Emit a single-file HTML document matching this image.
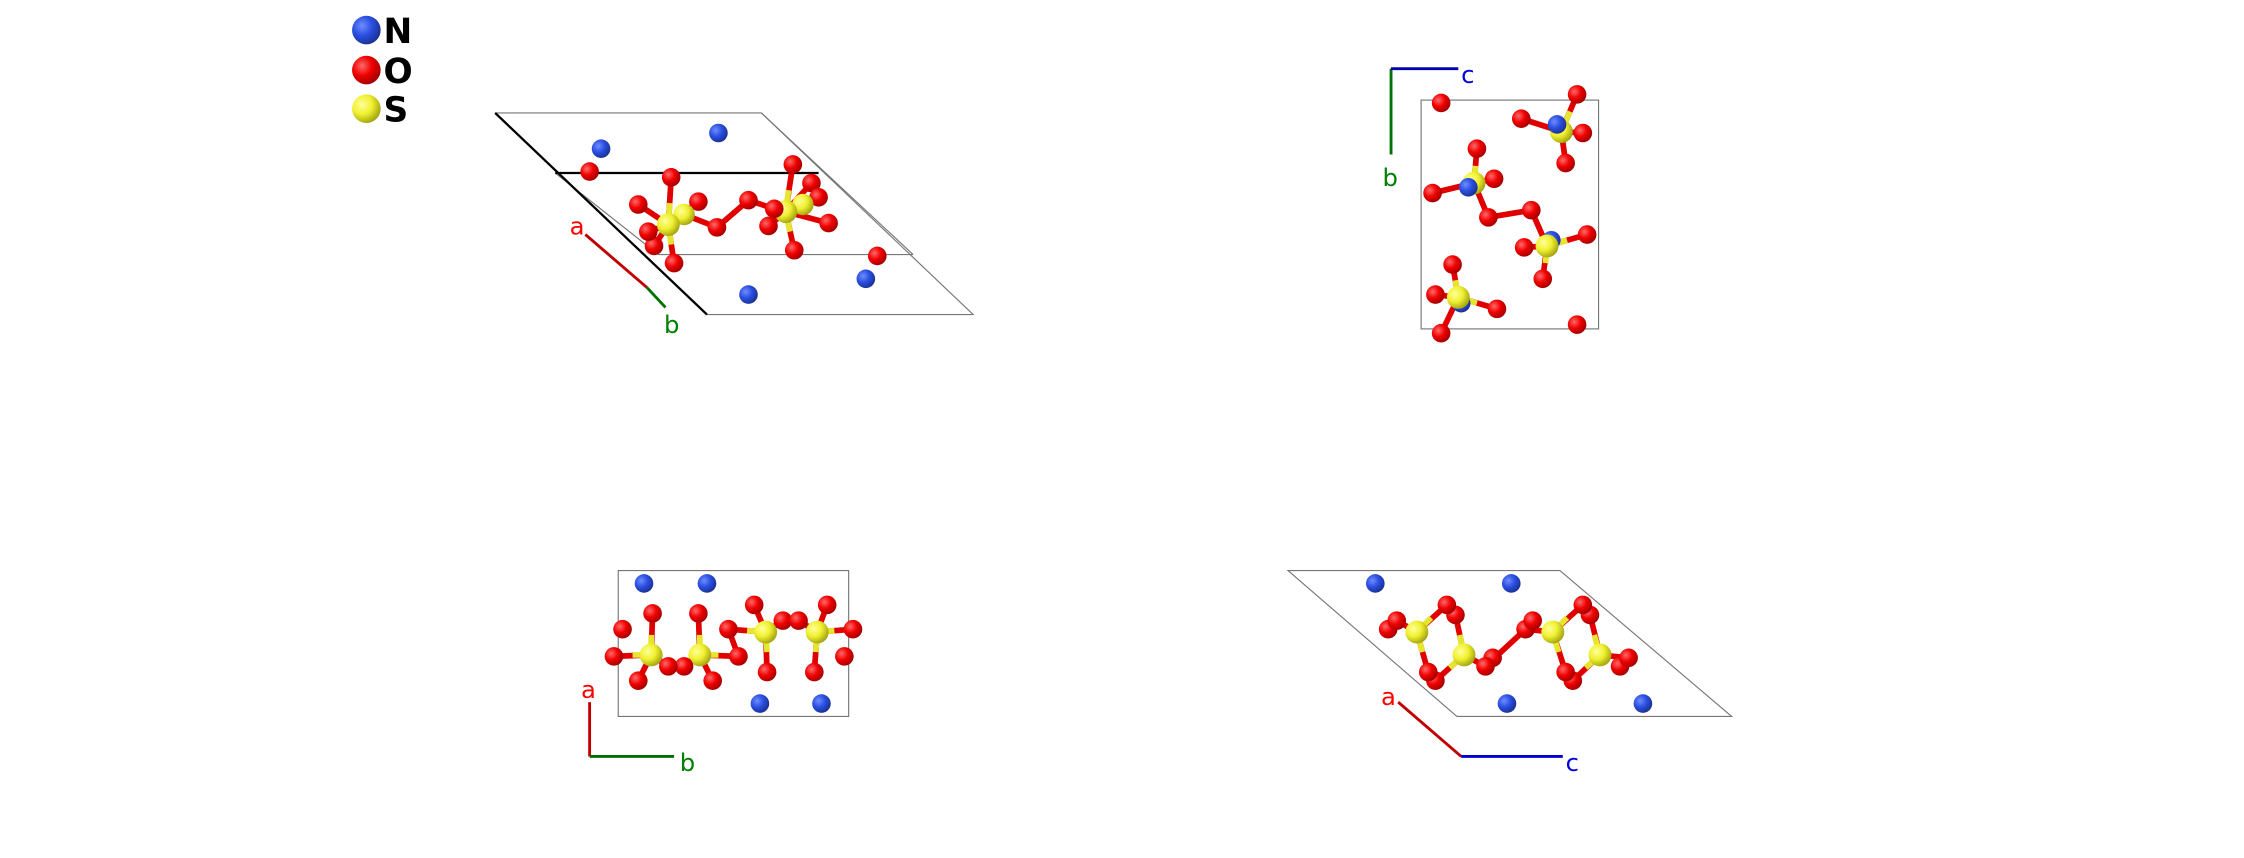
<!DOCTYPE html>
<html><head><meta charset="utf-8"><style>
html,body{margin:0;padding:0;background:#fff;}
svg{display:block;}
</style></head><body>
<svg width="2244" height="858" viewBox="0 0 1568 600" preserveAspectRatio="none" xmlns="http://www.w3.org/2000/svg">
<defs>
<radialGradient id="gN" cx="0.35" cy="0.35" r="0.7"><stop offset="0" stop-color="#6f8cff"/><stop offset="0.5" stop-color="#2a4fe0"/><stop offset="1" stop-color="#1a2f90"/></radialGradient>
<radialGradient id="gO" cx="0.35" cy="0.35" r="0.7"><stop offset="0" stop-color="#ff6a6a"/><stop offset="0.5" stop-color="#f00000"/><stop offset="1" stop-color="#a00000"/></radialGradient>
<radialGradient id="gS" cx="0.35" cy="0.35" r="0.7"><stop offset="0" stop-color="#ffff9a"/><stop offset="0.5" stop-color="#f0f030"/><stop offset="1" stop-color="#a0a010"/></radialGradient>
</defs>
<style>
.N{fill:url(#gN)}.O{fill:url(#gO)}.S{fill:url(#gS)}
.br{stroke:#e00000;stroke-width:4;stroke-linecap:round}
.by{stroke:#e6e630;stroke-width:4}
.cell{stroke:#777;stroke-width:0.8;fill:none}
.lbl{font-family:"DejaVu Sans","Liberation Sans",sans-serif;font-size:17px}
</style>
<!-- Legend -->
<circle class="N" cx="256" cy="21" r="10"/><circle class="O" cx="256" cy="49" r="10"/><circle class="S" cx="256" cy="76" r="10"/>
<g font-family="DejaVu Sans, Liberation Sans, sans-serif" font-weight="bold" font-size="24"><text x="268" y="30">N</text><text x="268" y="58">O</text><text x="268" y="85">S</text></g>

<!-- Panel 1 -->
<g>
<polyline class="cell" points="346,79 532,79 680,220 494,220"/>
<line class="cell" x1="532" y1="79" x2="638" y2="178"/>
<line class="cell" x1="460" y1="178" x2="638" y2="178"/>
<line class="cell" x1="388" y1="121" x2="460" y2="178"/>
<line x1="346" y1="79" x2="494" y2="220" stroke="#000" stroke-width="1.6"/>
<line x1="388" y1="121" x2="572" y2="121" stroke="#000" stroke-width="1.6"/>
<line x1="409" y1="164" x2="452" y2="201" stroke="#c00000" stroke-width="2"/>
<line x1="452" y1="201" x2="465" y2="215" stroke="#007000" stroke-width="2"/>
<text class="lbl" x="398" y="164" fill="#f00">a</text>
<text class="lbl" x="464" y="233" fill="#008000">b</text>
<g class="br">
<line x1="467" y1="157" x2="469" y2="124"/><line x1="467" y1="157" x2="446" y2="143"/><line x1="467" y1="157" x2="488" y2="141"/><line x1="467" y1="157" x2="453" y2="162"/><line x1="467" y1="157" x2="471" y2="184"/><line x1="467" y1="157" x2="457" y2="172"/>
<line x1="549" y1="148" x2="554" y2="115"/><line x1="549" y1="148" x2="537" y2="158"/><line x1="549" y1="148" x2="555" y2="175"/><line x1="549" y1="148" x2="579" y2="156"/><line x1="549" y1="148" x2="567" y2="128"/>
<line x1="478" y1="150" x2="501" y2="159"/><line x1="501" y1="159" x2="523" y2="140"/><line x1="523" y1="140" x2="541" y2="146"/><line x1="561" y1="143" x2="572" y2="138"/>
</g>
<g class="by"><line x1="467" y1="157" x2="468" y2="142"/><line x1="549" y1="148" x2="551" y2="133"/><line x1="549" y1="148" x2="552" y2="162"/><line x1="467" y1="157" x2="469" y2="171"/></g>
<g>
<circle class="N" cx="420" cy="104" r="6.5"/><circle class="N" cx="502" cy="93" r="6.5"/><circle class="N" cx="523" cy="206" r="6.5"/><circle class="N" cx="605" cy="195" r="6.5"/>
<circle class="O" cx="412" cy="120" r="6.5"/><circle class="O" cx="469" cy="124" r="6.5"/><circle class="O" cx="446" cy="143" r="6.5"/><circle class="O" cx="488" cy="141" r="6.5"/>
<circle class="O" cx="457" cy="172" r="6.5"/><circle class="O" cx="453" cy="162" r="6.5"/><circle class="O" cx="471" cy="184" r="6.5"/>
<circle class="O" cx="554" cy="115" r="6.5"/><circle class="O" cx="567" cy="128" r="6.5"/><circle class="O" cx="572" cy="138" r="6.5"/><circle class="O" cx="579" cy="156" r="6.5"/>
<circle class="O" cx="555" cy="175" r="6.5"/><circle class="O" cx="613" cy="179" r="6.5"/>
<circle class="S" cx="478" cy="150" r="7.5"/><circle class="S" cx="467" cy="157" r="8"/>
<circle class="S" cx="561" cy="143" r="7.5"/><circle class="S" cx="549" cy="148" r="8"/>
<circle class="O" cx="501" cy="159" r="6.5"/><circle class="O" cx="523" cy="140" r="6.5"/><circle class="O" cx="541" cy="146" r="6.5"/><circle class="O" cx="537" cy="158" r="6.5"/>
</g>
</g>

<!-- Panel 2 -->
<g>
<rect class="cell" x="993" y="70" width="124" height="160"/>
<line x1="972" y1="48" x2="972" y2="108" stroke="#007000" stroke-width="2"/>
<line x1="972" y1="48" x2="1019" y2="48" stroke="#0000b0" stroke-width="2"/>
<text class="lbl" x="1021" y="58" fill="#0000e0">c</text>
<text class="lbl" x="966" y="130" fill="#008000">b</text>
<g class="br">
<line x1="1091" y1="92" x2="1102" y2="66"/><line x1="1091" y1="92" x2="1063" y2="83"/><line x1="1091" y1="92" x2="1106" y2="93"/><line x1="1091" y1="92" x2="1094" y2="114"/>
<line x1="1030" y1="128" x2="1032" y2="104"/><line x1="1030" y1="128" x2="1044" y2="125"/><line x1="1030" y1="128" x2="1001" y2="135"/><line x1="1030" y1="128" x2="1040" y2="152"/>
<line x1="1040" y1="152" x2="1070" y2="147"/>
<line x1="1081" y1="172" x2="1070" y2="147"/><line x1="1081" y1="172" x2="1109" y2="164"/><line x1="1081" y1="172" x2="1065" y2="173"/><line x1="1081" y1="172" x2="1078" y2="195"/>
<line x1="1019" y1="208" x2="1015" y2="185"/><line x1="1019" y1="208" x2="1003" y2="206"/><line x1="1019" y1="208" x2="1046" y2="216"/><line x1="1019" y1="208" x2="1007" y2="233"/>
</g>
<g class="by"><line x1="1091" y1="92" x2="1097" y2="78"/><line x1="1030" y1="128" x2="1031" y2="116"/><line x1="1081" y1="172" x2="1095" y2="168"/><line x1="1081" y1="172" x2="1080" y2="184"/><line x1="1019" y1="208" x2="1032" y2="212"/><line x1="1019" y1="208" x2="1017" y2="196"/></g>
<g>
<circle class="O" cx="1007" cy="72" r="6.5"/><circle class="O" cx="1102" cy="66" r="6.5"/><circle class="O" cx="1063" cy="83" r="6.5"/><circle class="O" cx="1106" cy="93" r="6.5"/><circle class="O" cx="1094" cy="114" r="6.5"/>
<circle class="O" cx="1032" cy="104" r="6.5"/><circle class="O" cx="1044" cy="125" r="6.5"/><circle class="O" cx="1001" cy="135" r="6.5"/><circle class="O" cx="1040" cy="152" r="6.5"/><circle class="O" cx="1070" cy="147" r="6.5"/>
<circle class="O" cx="1109" cy="164" r="6.5"/><circle class="O" cx="1065" cy="173" r="6.5"/><circle class="O" cx="1078" cy="195" r="6.5"/>
<circle class="O" cx="1015" cy="185" r="6.5"/><circle class="O" cx="1003" cy="206" r="6.5"/><circle class="O" cx="1046" cy="216" r="6.5"/><circle class="O" cx="1007" cy="233" r="6.5"/><circle class="O" cx="1102" cy="227" r="6.5"/>
<circle class="S" cx="1091" cy="92" r="8"/><circle class="N" cx="1088" cy="87" r="6.5"/>
<circle class="S" cx="1030" cy="128" r="8"/><circle class="N" cx="1026" cy="131" r="6.5"/>
<circle class="N" cx="1084" cy="168" r="6.5"/><circle class="S" cx="1081" cy="172" r="8"/>
<circle class="N" cx="1021" cy="212" r="6.5"/><circle class="S" cx="1019" cy="208" r="8"/>
</g>
</g>

<!-- Panel 3 -->
<g>
<rect class="cell" x="432" y="399" width="161" height="102"/>
<line x1="412" y1="491" x2="412" y2="529" stroke="#c00000" stroke-width="2"/>
<line x1="412" y1="529" x2="471" y2="529" stroke="#007000" stroke-width="2"/>
<text class="lbl" x="406" y="488" fill="#f00">a</text>
<text class="lbl" x="475" y="539" fill="#008000">b</text>
<g class="br">
<line x1="455" y1="458" x2="456" y2="429"/><line x1="455" y1="458" x2="429" y2="459"/><line x1="455" y1="458" x2="446" y2="476"/><line x1="455" y1="458" x2="467" y2="466"/>
<line x1="489" y1="458" x2="488" y2="429"/><line x1="489" y1="458" x2="498" y2="476"/><line x1="489" y1="458" x2="478" y2="466"/><line x1="489" y1="458" x2="516" y2="459"/>
<line x1="516" y1="459" x2="509" y2="440"/>
<line x1="535" y1="442" x2="509" y2="440"/><line x1="535" y1="442" x2="527" y2="423"/><line x1="535" y1="442" x2="536" y2="470"/><line x1="535" y1="442" x2="547" y2="434"/>
<line x1="571" y1="442" x2="578" y2="423"/><line x1="571" y1="442" x2="596" y2="440"/><line x1="571" y1="442" x2="569" y2="470"/><line x1="571" y1="442" x2="558" y2="434"/>
</g>
<g class="by"><line x1="455" y1="458" x2="455" y2="444"/><line x1="455" y1="458" x2="442" y2="458"/><line x1="489" y1="458" x2="489" y2="444"/><line x1="489" y1="458" x2="502" y2="458"/><line x1="535" y1="442" x2="536" y2="456"/><line x1="535" y1="442" x2="522" y2="441"/><line x1="571" y1="442" x2="570" y2="456"/><line x1="571" y1="442" x2="583" y2="441"/></g>
<g>
<circle class="N" cx="450" cy="408" r="6.5"/><circle class="N" cx="494" cy="408" r="6.5"/><circle class="N" cx="531" cy="492" r="6.5"/><circle class="N" cx="574" cy="492" r="6.5"/>
<circle class="O" cx="435" cy="440" r="6.5"/><circle class="O" cx="456" cy="429" r="6.5"/><circle class="O" cx="488" cy="429" r="6.5"/><circle class="O" cx="429" cy="459" r="6.5"/>
<circle class="O" cx="446" cy="476" r="6.5"/><circle class="O" cx="498" cy="476" r="6.5"/>
<circle class="O" cx="527" cy="423" r="6.5"/><circle class="O" cx="536" cy="470" r="6.5"/><circle class="O" cx="578" cy="423" r="6.5"/><circle class="O" cx="569" cy="470" r="6.5"/><circle class="O" cx="596" cy="440" r="6.5"/><circle class="O" cx="590" cy="459" r="6.5"/>
<circle class="S" cx="455" cy="458" r="8"/><circle class="S" cx="489" cy="458" r="8"/>
<circle class="O" cx="478" cy="466" r="6.5"/><circle class="O" cx="467" cy="466" r="6.5"/>
<circle class="O" cx="509" cy="440" r="6.5"/><circle class="O" cx="516" cy="459" r="6.5"/>
<circle class="S" cx="535" cy="442" r="8"/><circle class="S" cx="571" cy="442" r="8"/>
<circle class="O" cx="547" cy="434" r="6.5"/><circle class="O" cx="558" cy="434" r="6.5"/>
</g>
</g>

<!-- Panel 4 -->
<g>
<polygon class="cell" points="900,399 1090,399 1210,501 1018,501"/>
<line x1="977" y1="491" x2="1021" y2="529" stroke="#c00000" stroke-width="2"/>
<line x1="1021" y1="529" x2="1092" y2="529" stroke="#0000d0" stroke-width="2"/>
<text class="lbl" x="965" y="493" fill="#f00">a</text>
<text class="lbl" x="1094" y="539" fill="#0000e0">c</text>
<g class="br">
<line x1="990" y1="442" x2="976" y2="434"/><line x1="990" y1="442" x2="1011" y2="423"/><line x1="990" y1="442" x2="998" y2="470"/>
<line x1="1023" y1="458" x2="1017" y2="430"/><line x1="1023" y1="458" x2="1003" y2="476"/><line x1="1023" y1="458" x2="1038" y2="466"/>
<line x1="1038" y1="466" x2="1066" y2="440"/>
<line x1="1085" y1="442" x2="1066" y2="440"/><line x1="1085" y1="442" x2="1106" y2="423"/><line x1="1085" y1="442" x2="1094" y2="470"/>
<line x1="1118" y1="458" x2="1111" y2="430"/><line x1="1118" y1="458" x2="1099" y2="476"/><line x1="1118" y1="458" x2="1138" y2="460"/>
</g>
<g class="by"><line x1="990" y1="442" x2="1000" y2="432"/><line x1="990" y1="442" x2="994" y2="456"/><line x1="1023" y1="458" x2="1020" y2="444"/><line x1="1023" y1="458" x2="1013" y2="467"/><line x1="1085" y1="442" x2="1095" y2="432"/><line x1="1085" y1="442" x2="1089" y2="456"/><line x1="1118" y1="458" x2="1114" y2="444"/><line x1="1118" y1="458" x2="1108" y2="467"/></g>
<g>
<circle class="N" cx="961" cy="408" r="6.5"/><circle class="N" cx="1056" cy="408" r="6.5"/><circle class="N" cx="1053" cy="492" r="6.5"/><circle class="N" cx="1148" cy="492" r="6.5"/>
<circle class="O" cx="970" cy="440" r="6.5"/><circle class="O" cx="976" cy="434" r="6.5"/><circle class="O" cx="1017" cy="430" r="6.5"/><circle class="O" cx="1011" cy="423" r="6.5"/>
<circle class="O" cx="1003" cy="476" r="6.5"/><circle class="O" cx="998" cy="470" r="6.5"/>
<circle class="O" cx="1043" cy="460" r="6.5"/><circle class="O" cx="1038" cy="466" r="6.5"/>
<circle class="O" cx="1066" cy="440" r="6.5"/><circle class="O" cx="1071" cy="434" r="6.5"/>
<circle class="O" cx="1111" cy="430" r="6.5"/><circle class="O" cx="1106" cy="423" r="6.5"/>
<circle class="O" cx="1099" cy="476" r="6.5"/><circle class="O" cx="1094" cy="470" r="6.5"/>
<circle class="O" cx="1132" cy="466" r="6.5"/><circle class="O" cx="1138" cy="460" r="6.5"/>
<circle class="S" cx="990" cy="442" r="8"/><circle class="S" cx="1023" cy="458" r="8"/><circle class="S" cx="1085" cy="442" r="8"/><circle class="S" cx="1118" cy="458" r="8"/>
</g>
</g>
</svg>
</body></html>
